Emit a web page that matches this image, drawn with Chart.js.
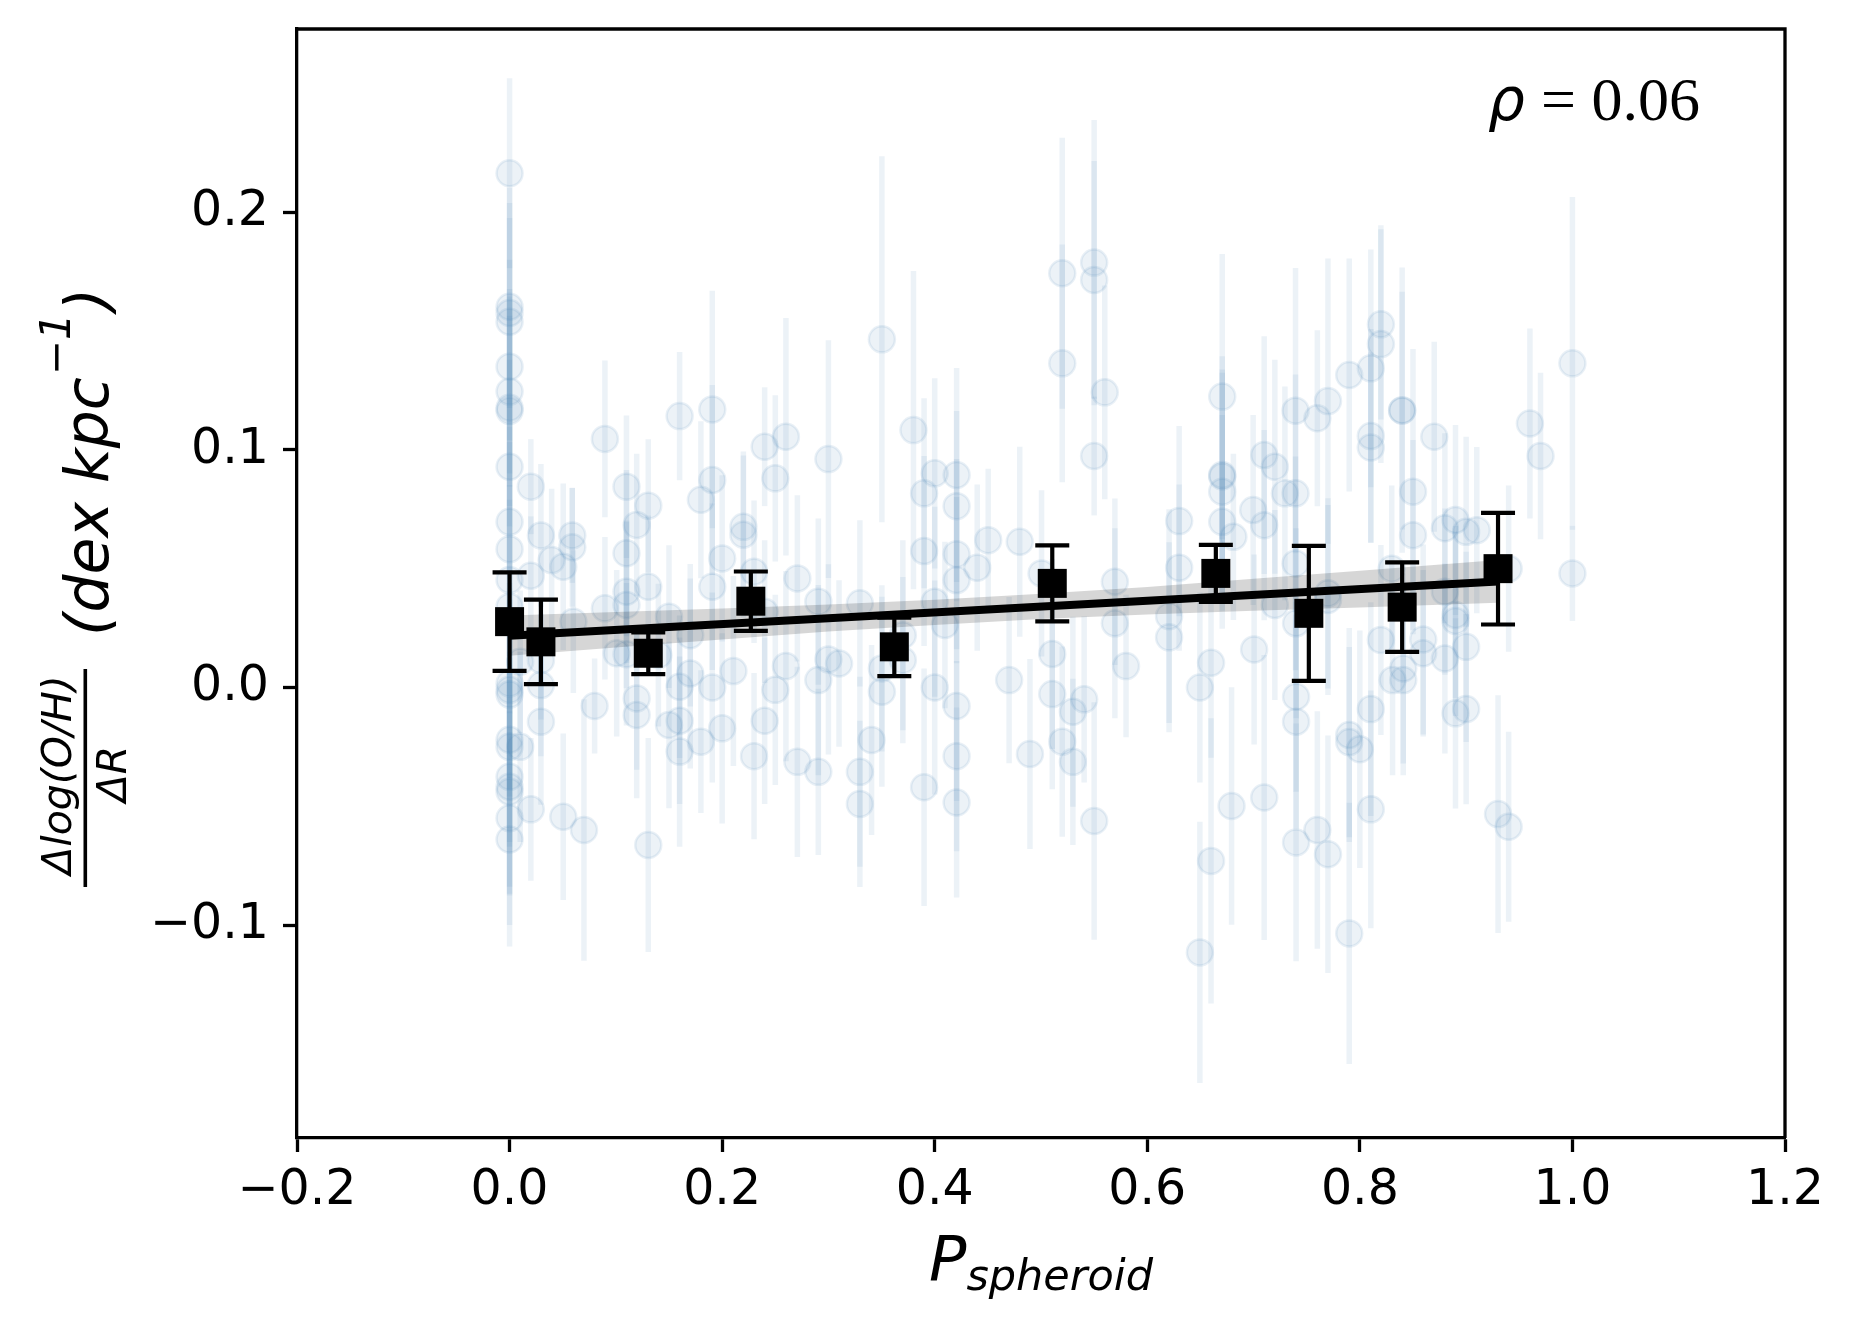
<!DOCTYPE html>
<html>
<head>
<meta charset="utf-8">
<script src="https://cdn.jsdelivr.net/npm/chart.js@4.4.1/dist/chart.umd.min.js"></script>
<style>
  html, body { margin: 0; padding: 0; background: #fff; }
  canvas { display: block; }
</style>
</head>
<body>
<canvas id="chart" width="1854" height="1330"></canvas>
<script>
// individual galaxies: P_spheroid, gradient, error
const pX = [
  0, 0, 0, 0, 0, 0, 0, 0, 0, 0,
  0, 0, 0, 0, 0, 0, 0, 0, 0, 0,
  0, 0, 0, .010, .010, .020, .020, .020, .0295, .0295,
  .0295, .0295, .0396, .0505, .0505, .059, .059, .060, .070, .080,
  .0897, .0897, .1008, .110, .110, .110, .110, .110, .1196, .1196,
  .1196, .1305, .1305, .1305, .140, .150, .150, .160, .160, .160,
  .160, .170, .170, .180, .180, .1907, .1907, .1907, .1907, .200,
  .200, .2106, .220, .220, .230, .230, .240, .240, .240, .250,
  .250, .260, .260, .2708, .2708, .2905, .2905, .2905, .300, .300,
  .310, .3296, .3296, .3296, .3406, .3503, .3503, .3503, .370, .370,
  .380, .390, .390, .390, .400, .400, .400, .4096, .4206, .4206,
  .4206, .4206, .4206, .4206, .4206, .440, .4503, .470, .480, .4896,
  .5005, .5106, .5106, .520, .520, .520, .530, .530, .5406, .550,
  .550, .550, .550, .560, .5695, .5695, .580, .6205, .6205, .630,
  .630, .6495, .6495, .660, .660, .6705, .6705, .6705, .6705, .6705,
  .681, .6793, .6996, .7005, .710, .710, .710, .720, .720, .7295,
  .7395, .7395, .7395, .740, .740, .740, .740, .760, .760, .770,
  .770, .770, .770, .790, .790, .790, .790, .800, .8103, .8103,
  .8103, .8103, .8103, .8198, .8198, .8198, .830, .8308, .8398, .8398,
  .8408, .8408, .850, .850, .8596, .8596, .870, .880, .880, .880,
  .890, .890, .890, .890, .900, .900, .900, .910, .930, .940,
  .940, .960, .970, 1.0, 1.0
];
const pY = [
  .2164, .1602, .1576, .1539, .135, .1245, .1177, .1164, .0929, .0697,
  .0582, .0452, .034, .0017, -.001, -.003, -.022, -.025, -.0376, -.0418,
  -.0439, -.055, -.064, .0108, -.025, .0845, .047, -.0513, .064, .0115,
  .001, -.0144, .0536, .0508, -.0544, .064, .059, .0277, -.060, -.0078,
  .1046, .0333, .0144, .0845, .0565, .0403, .0347, .014, .0684, -.0046,
  -.0116, .0765, .0424, -.0663, .0136, .0298, -.0158, .1142, .0003, -.014,
  -.027, .0059, .022, .079, -.0228, .117, .0873, .0424, 0, .0543,
  -.0172, .0069, .0676, .0643, .0487, -.0289, .1013, .0319, -.014, .088,
  -.001, .1055, .009, .0459, -.0313, .0361, .0031, -.0355, .0961, .0118,
  .0101, .0354, -.0355, -.049, -.0221, .1465, -.0018, .008, .022, .0115,
  .1083, .0817, .0574, -.042, .0901, .0361, 0, .0263, .0894, .0763,
  .0561, .0452, -.0078, -.0289, -.0484, .0504, .062, .0031, .0613, -.028,
  .048, .0141, -.0028, .1743, .1364, -.0228, -.0102, -.0313, -.005, .1788,
  .1715, .0974, -.0562, .1242, .0445, .027, .009, .030, .0211, .070,
  .0504, 0, -.1115, .0104, -.073, .1224, .0894, .0888, .0824, .0697,
  .0634, -.0499, .0747, .016, .0978, .0683, -.0463, .0929, .0347, .0817,
  .0817, .1165, .0522, -.0039, -.0144, -.0652, .027, .1133, -.060, .1205,
  .0396, .0368, -.0702, .1315, -.020, -.023, -.1035, -.026, .1343, .1058,
  .101, -.0091, -.0513, .1528, .1445, .020, .050, .0031, .1167, .1165,
  .008, .0031, .0824, .0641, .0202, .0144, .1055, .067, .0403, .0122,
  .0705, .0305, .028, -.0109, .0655, .0171, -.0091, .0662, -.0533, .050,
  -.0586, .1111, .0974, .1364, .048
];
const pErr = [
  .04, .05, .04, .05, .045, .04, .05, .04, .045, .04,
  .045, .04, .045, .04, .045, .04, .045, .04, .05, .045,
  .04, .045, .045, .03, .04, .02, .025, .03, .03, .025,
  .03, .035, .03, .035, .035, .02, .025, .03, .055, .02,
  .033, .03, .035, .03, .035, .03, .035, .03, .03, .03,
  .035, .028, .03, .045, .03, .03, .035, .027, .03, .035,
  .04, .04, .03, .033, .03, .05, .04, .035, .04, .035,
  .04, .04, .03, .035, .03, .035, .025, .03, .035, .035,
  .04, .05, .04, .035, .04, .035, .04, .035, .05, .04,
  .035, .035, .04, .035, .04, .077, .04, .035, .04, .035,
  .067, .04, .04, .05, .04, .04, .045, .035, .045, .04,
  .04, .035, .04, .04, .04, .035, .03, .035, .04, .04,
  .035, .04, .04, .057, .05, .04, .04, .035, .035, .06,
  .05, .025, .05, .045, .035, .04, .03, .045, .04, .04,
  .035, .04, .055, .04, .06, .06, .05, .045, .05, .045,
  .035, .05, .04, .04, .05, .04, .06, .045, .04, .045,
  .05, .06, .045, .04, .045, .05, .04, .037, .05, .06,
  .04, .04, .05, .049, .045, .04, .055, .05, .05, .045,
  .04, .045, .05, .04, .05, .04, .035, .04, .06, .05,
  .04, .04, .06, .04, .04, .035, .04, .04, .035, .04,
  .04, .035, .04, .04, .04, .04, .04, .035, .05, .035,
  .04, .04, .035, .07, .02
];

// binned medians
const binX = [0.0, 0.0295, 0.1305, 0.227, 0.362, 0.5106, 0.6645, 0.752, 0.8398, 0.930];
const binY = [0.0277, 0.0192, 0.0144, 0.0363, 0.0171, 0.0438, 0.048, 0.0312, 0.0338, 0.050];
const binErr = [0.0207, 0.0178, 0.0088, 0.0125, 0.0123, 0.016, 0.012, 0.0284, 0.0188, 0.0235];

// linear fit and its confidence band
const fitX = [0, 0.93];
const fitY = [0.0218, 0.0446];
const bandX = [0, 0.1, 0.2, 0.3, 0.4, 0.5, 0.6, 0.7, 0.8, 0.93];
const bandHigh = [0.0303, 0.0318, 0.0332, 0.0349, 0.0369, 0.0394, 0.0423, 0.0457, 0.0491, 0.0536];
const bandLow = [0.0133, 0.0168, 0.0202, 0.0235, 0.0263, 0.0288, 0.0307, 0.0323, 0.0337, 0.0356];

const xTicks = [-0.2, 0, 0.2, 0.4, 0.6, 0.8, 1.0, 1.2];
const yTicks = [-0.1, 0, 0.1, 0.2];
const rhoText = '0.06';

const blue = 'rgba(70, 130, 180, 0.1)';

function fmt(v) {
  let s = Math.abs(v) < 1e-9 ? '0.0' : v.toFixed(1);
  return s.replace('-', '\u2212');
}

function toPoints(xs, ys) {
  return xs.map((x, i) => ({ x: x, y: ys[i] }));
}

function drawErrorBars(chart, xs, ys, errs, color, width, cap) {
  let ctx = chart.ctx;
  let sx = chart.scales.x;
  let sy = chart.scales.y;
  let a = chart.chartArea;
  ctx.save();
  ctx.beginPath();
  ctx.rect(a.left, a.top, a.right - a.left, a.bottom - a.top);
  ctx.clip();
  ctx.strokeStyle = color;
  ctx.lineWidth = width;
  for (let i = 0; i < xs.length; ++i) {
    let px = sx.getPixelForValue(xs[i]);
    let top = sy.getPixelForValue(ys[i] + errs[i]);
    let bot = sy.getPixelForValue(ys[i] - errs[i]);
    ctx.beginPath();
    ctx.moveTo(px, top);
    ctx.lineTo(px, bot);
    ctx.stroke();
    if (cap) {
      ctx.beginPath();
      ctx.moveTo(px - cap, top);
      ctx.lineTo(px + cap, top);
      ctx.moveTo(px - cap, bot);
      ctx.lineTo(px + cap, bot);
      ctx.stroke();
    }
  }
  ctx.restore();
}

const errorBarPlugin = {
  id: 'errorBars',
  beforeDatasetDraw(chart, args) {
    let ds = chart.data.datasets[args.index];
    if (ds.label === 'galaxies') drawErrorBars(chart, pX, pY, pErr, blue, 5.5, 0);
    if (ds.label === 'bins') drawErrorBars(chart, binX, binY, binErr, '#000', 4.2, 17);
  }
};

const decorPlugin = {
  id: 'decor',
  afterDraw(chart) {
    let ctx = chart.ctx;
    let a = chart.chartArea;
    ctx.save();
    // top and right spines
    ctx.strokeStyle = '#000';
    ctx.lineWidth = 3.3;
    ctx.beginPath();
    ctx.moveTo(a.left, a.top);
    ctx.lineTo(a.right, a.top);
    ctx.lineTo(a.right, a.bottom);
    ctx.stroke();

    ctx.fillStyle = '#000';
    ctx.textBaseline = 'alphabetic';

    // x axis title
    ctx.font = 'italic 62px "DejaVu Sans"';
    let wP = ctx.measureText('P').width;
    ctx.font = 'italic 43px "DejaVu Sans"';
    let wS = ctx.measureText('spheroid').width;
    let x0 = (a.left + a.right) / 2 - (wP + wS) / 2;
    ctx.font = 'italic 62px "DejaVu Sans"';
    ctx.fillText('P', x0, 1280);
    ctx.font = 'italic 43px "DejaVu Sans"';
    ctx.fillText('spheroid', x0 + wP, 1290);

    // rho annotation
    ctx.font = 'italic 58px "DejaVu Sans"';
    ctx.fillText('\u03c1', 1488, 120);
    ctx.font = '62px "Liberation Serif"';
    ctx.fillText('= ' + rhoText, 1541, 120);

    // y axis title, rotated: (u, v) in text frame -> screen (v, -u)
    ctx.save();
    ctx.rotate(-Math.PI / 2);
    ctx.font = 'italic 41px "DejaVu Sans"';
    let wn = ctx.measureText('\u0394log(O/H)').width;
    ctx.fillText('\u0394log(O/H)', -775 - wn / 2, 71);
    let wd = ctx.measureText('\u0394R').width;
    ctx.fillText('\u0394R', -774 - wd / 2, 126);
    ctx.fillRect(-887, 83.5, 218, 3.6);

    let u = -636;
    ctx.font = 'italic 60px "DejaVu Sans"';
    ctx.fillText('(dex kpc', u, 108);
    u += ctx.measureText('(dex kpc').width + 2;
    ctx.font = 'italic 42px "DejaVu Sans"';
    ctx.fillText('\u22121', u, 70);
    u += ctx.measureText('\u22121').width + 2;
    ctx.font = 'italic 60px "DejaVu Sans"';
    ctx.fillText(')', u, 108);
    ctx.restore();

    ctx.restore();
  }
};

Chart.defaults.font.family = '"DejaVu Sans"';
Chart.defaults.color = '#000';

const tickFont = { family: '"DejaVu Sans"', size: 49 };

new Chart(document.getElementById('chart'), {
  type: 'scatter',
  data: {
    datasets: [
      {
        label: 'galaxies',
        type: 'scatter',
        data: toPoints(pX, pY),
        pointRadius: 13,
        borderWidth: 2.5,
        backgroundColor: blue,
        borderColor: 'rgba(70, 130, 180, 0.12)',
        order: 5
      },
      {
        label: 'bandHigh',
        type: 'line',
        data: toPoints(bandX, bandHigh),
        borderWidth: 0,
        pointRadius: 0,
        fill: '+1',
        backgroundColor: 'rgba(0, 0, 0, 0.16)',
        order: 4
      },
      {
        label: 'bandLow',
        type: 'line',
        data: toPoints(bandX, bandLow),
        borderWidth: 0,
        pointRadius: 0,
        fill: false,
        order: 4
      },
      {
        label: 'fit',
        type: 'line',
        data: toPoints(fitX, fitY),
        borderColor: '#000',
        borderWidth: 8,
        pointRadius: 0,
        fill: false,
        order: 2
      },
      {
        label: 'bins',
        type: 'scatter',
        data: toPoints(binX, binY),
        pointStyle: 'rect',
        pointRadius: 20.5,
        borderWidth: 0,
        backgroundColor: '#000',
        order: 1
      }
    ]
  },
  options: {
    responsive: false,
    animation: false,
    devicePixelRatio: 1,
    layout: { padding: { left: 0, top: 29, right: 69, bottom: 0 } },
    plugins: {
      legend: { display: false },
      tooltip: { enabled: false }
    },
    scales: {
      x: {
        type: 'linear',
        min: -0.2,
        max: 1.2,
        afterBuildTicks: s => { s.ticks = xTicks.map(v => ({ value: v })); },
        afterFit: s => { s.height = 192; s.paddingLeft = 0; s.paddingRight = 0; },
        grid: { drawOnChartArea: false, drawTicks: true, tickLength: 14, tickWidth: 3.3, tickColor: '#000' },
        border: { display: true, color: '#000', width: 3.3 },
        ticks: { font: tickFont, color: '#000', padding: 10, maxRotation: 0, autoSkip: false, callback: v => fmt(v) }
      },
      y: {
        type: 'linear',
        min: -0.1896,
        max: 0.2771,
        afterBuildTicks: s => { s.ticks = yTicks.map(v => ({ value: v })); },
        afterFit: s => { s.width = 297; s.paddingTop = 0; s.paddingBottom = 0; },
        grid: { drawOnChartArea: false, drawTicks: true, tickLength: 14, tickWidth: 3.3, tickColor: '#000' },
        border: { display: true, color: '#000', width: 3.3 },
        ticks: { font: tickFont, color: '#000', padding: 14, autoSkip: false, callback: v => fmt(v) }
      }
    }
  },
  plugins: [errorBarPlugin, decorPlugin]
});
</script>
</body>
</html>
